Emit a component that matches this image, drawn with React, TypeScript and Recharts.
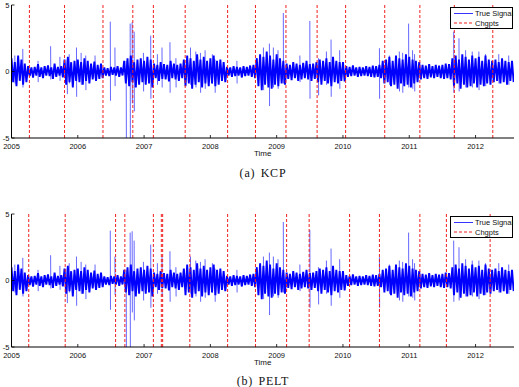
import React from 'react';
import { ComposedChart, Line, XAxis, YAxis, ReferenceLine } from 'recharts';

// signal envelope, one high / low pair per 0.05 year from 2005.00
const binStart = 2005;
const binStep = 0.05;

const upper = [
  // 2005
  1.0, 0.7, 1.2, 0.9, 0.6, 0.4, 0.3, 0.35, 0.55, 0.3, 0.4, 0.45, 0.3, 0.6, 0.35, 0.4, 0.9, 1.1, 0.7, 0.8,
  // 2006
  0.9, 0.7, 1.0, 0.8, 0.6, 0.75, 0.5, 0.6, 0.3, 0.25, 0.35, 0.3, 0.4, 0.3, 0.8, 1.0, 1.2, 0.7, 0.9, 1.0,
  // 2007
  0.8, 1.1, 0.9, 0.6, 0.5, 0.7, 0.55, 0.5, 0.8, 0.6, 0.5, 0.6, 0.9, 1.2, 1.0, 0.8, 1.3, 0.9, 1.1, 0.8,
  // 2008
  1.0, 1.2, 0.8, 0.9, 0.7, 0.35, 0.3, 0.4, 0.35, 0.3, 0.4, 0.35, 0.45, 0.5, 1.0, 1.3, 1.1, 1.5, 1.2, 0.9,
  // 2009
  1.3, 1.0, 0.8, 0.6, 0.5, 0.7, 0.6, 0.5, 0.65, 0.8, 0.55, 0.6, 0.7, 0.9, 0.8, 1.0, 0.7, 1.1, 0.8, 0.7,
  // 2010
  0.7, 0.4, 0.35, 0.45, 0.3, 0.35, 0.3, 0.4, 0.35, 0.45, 0.4, 0.5, 0.8, 0.9, 1.1, 0.8, 1.2, 1.0, 0.9, 1.3,
  // 2011
  1.1, 0.9, 0.8, 0.7, 0.5, 0.45, 0.55, 0.4, 0.5, 0.45, 0.5, 0.6, 0.55, 1.0, 1.2, 0.9, 1.3, 1.1, 0.9, 1.2,
  // 2012
  1.0, 1.1, 0.8, 1.2, 0.9, 0.8, 0.9, 0.7, 1.0, 0.8, 0.7, 0.8,
];

const lower = [
  // 2005
  -0.8, -1.1, -0.7, -1.0, -0.8, -0.35, -0.45, -0.3, -0.4, -0.5, -0.3, -0.35, -0.55, -0.4, -0.3, -0.45, -1.0, -0.8, -1.2, -0.7,
  // 2006
  -0.8, -1.0, -0.7, -0.9, -0.6, -0.7, -0.55, -0.5, -0.3, -0.35, -0.25, -0.3, -0.4, -0.3, -0.9, -1.1, -0.8, -1.2, -1.0, -0.8,
  // 2007
  -1.0, -0.9, -1.2, -0.5, -0.7, -0.55, -0.6, -0.75, -0.5, -0.6, -0.7, -0.5, -1.1, -0.9, -1.3, -1.0, -0.8, -1.2, -0.9, -1.1,
  // 2008
  -0.9, -1.1, -1.0, -0.7, -0.8, -0.3, -0.4, -0.35, -0.3, -0.45, -0.35, -0.3, -0.4, -0.5, -1.1, -1.4, -1.0, -1.2, -1.3, -1.0,
  // 2009
  -1.1, -0.9, -1.0, -0.55, -0.65, -0.5, -0.7, -0.6, -0.5, -0.6, -0.7, -0.55, -0.8, -1.0, -0.7, -0.9, -1.1, -0.8, -0.9, -0.7,
  // 2010
  -0.75, -0.4, -0.35, -0.3, -0.4, -0.35, -0.3, -0.35, -0.4, -0.45, -0.4, -0.5, -0.9, -0.8, -1.1, -1.0, -1.3, -0.9, -1.1, -1.0,
  // 2011
  -1.2, -0.9, -0.8, -0.6, -0.5, -0.55, -0.45, -0.5, -0.4, -0.5, -0.55, -0.5, -0.6, -1.1, -0.9, -1.3, -1.0, -1.2, -1.1, -0.9,
  // 2012
  -1.2, -1.0, -1.1, -0.9, -1.0, -0.8, -0.7, -0.9, -0.8, -1.0, -0.7, -0.8,
];

// isolated large returns: [time, high, low]
const spikes: [number, number, number][] = [
  [2005.05, 1.2, -0.9],
  [2005.17, 1.7, -1.2],
  [2005.4, 0.8, -0.8],
  [2005.59, 1.9, -0.6],
  [2005.73, 1.1, -0.7],
  [2005.84, 0.9, -1.7],
  [2005.87, 1.3, -0.9],
  [2005.98, 1.8, -1.9],
  [2006.05, 1.4, -1.0],
  [2006.12, 1.2, -1.4],
  [2006.26, 1.2, -0.5],
  [2006.49, 3.75, -2.2],
  [2006.56, 1.8, -1.1],
  [2006.73, 0.8, -5],
  [2006.79, 3.6, -5],
  [2006.82, 3.7, -2.4],
  [2006.85, 3.0, -3.0],
  [2006.99, 1.4, -1.5],
  [2007.1, 2.7, -2.05],
  [2007.2, 1.3, -1.0],
  [2007.27, 1.8, -1.2],
  [2007.39, 2.2, -1.6],
  [2007.48, 1.0, -1.2],
  [2007.7, 1.8, -1.0],
  [2007.78, 1.5, -1.2],
  [2007.85, 1.4, -1.6],
  [2007.92, 1.6, -1.3],
  [2008.03, 1.3, -0.9],
  [2008.07, 0.9, -1.6],
  [2008.4, 0.8, -0.9],
  [2008.8, 1.8, -1.4],
  [2008.89, 2.1, -2.6],
  [2008.95, 1.8, -1.2],
  [2009.02, 1.6, -1.3],
  [2009.1, 4.4, -0.9],
  [2009.35, 1.2, -0.8],
  [2009.5, 3.8, -2.05],
  [2009.63, 1.0, -1.8],
  [2009.75, 1.5, -1.0],
  [2009.82, 2.4, -1.9],
  [2009.95, 1.6, -1.3],
  [2010.55, 1.75, -2.05],
  [2010.7, 1.2, -1.0],
  [2010.85, 1.5, -1.5],
  [2010.9, 1.4, -1.6],
  [2010.99, 3.6, -1.2],
  [2011.05, 1.6, -1.3],
  [2011.08, 1.3, -1.5],
  [2011.67, 3.0, -1.6],
  [2011.75, 2.5, -1.5],
  [2011.85, 1.6, -1.2],
  [2011.95, 1.5, -1.2],
  [2012.05, 1.5, -1.4],
  [2012.15, 1.3, -1.1],
  [2012.35, 1.3, -0.9],
  [2012.5, 1.2, -1.0],
];

const kcpChangepoints = [
  2005.27, 2005.8, 2006.38, 2006.83, 2007.14, 2007.62, 2008.26, 2008.68,
  2009.14, 2009.61, 2010.04, 2010.63, 2011.16, 2011.68, 2012.26,
];

const peltChangepoints = [
  2005.26, 2005.81, 2006.57, 2006.71, 2007.14, 2007.26, 2007.28, 2007.69,
  2008.26, 2008.68, 2009.15, 2009.49, 2010.1, 2010.55, 2011.16, 2011.56, 2012.22,
];

const yearTicks = [2005, 2006, 2007, 2008, 2009, 2010, 2011, 2012];
const valueTicks = [-5, 0, 5];
const timeDomain = [2005, 2012.58];

// dense band: the line swings high then low inside every bin
const bandRows = upper.flatMap((u, i) => [
  { t: binStart + i * binStep, v: u },
  { t: binStart + i * binStep + binStep / 2, v: lower[i] },
]);

// spike rows, each pair broken off from the next by a null
const spikeRows = spikes.flatMap(([t, hi, lo]) => [
  { t, v: hi },
  { t: t + 0.003, v: lo },
  { t: t + 0.004, v: null },
]);

const FONT = '"Liberation Sans", Arial, Helvetica, sans-serif';
const BLUE = '#0000ff';
const RED = '#f02020';
const TICK = 3;

const BottomTick = (props: any) => {
  const { x, y, payload } = props;
  return (
    <g>
      <line x1={x} x2={x} y1={y} y2={y - TICK} stroke="#000" strokeWidth={0.8} />
      <text x={x} y={y + 11} textAnchor="middle" fontSize={7.5} fontFamily={FONT} fill="#111">
        {payload.value}
      </text>
    </g>
  );
};

const TopTick = (props: any) => {
  const { x, y } = props;
  return <line x1={x} x2={x} y1={y} y2={y + TICK} stroke="#000" strokeWidth={0.8} />;
};

const LeftTick = (props: any) => {
  const { x, y, payload } = props;
  return (
    <g>
      <line x1={x} x2={x + TICK} y1={y} y2={y} stroke="#000" strokeWidth={0.8} />
      <text x={x - 2} y={y + 2.5} textAnchor="end" fontSize={7.5} fontFamily={FONT} fill="#111">
        {payload.value}
      </text>
    </g>
  );
};

const RightTick = (props: any) => {
  const { x, y } = props;
  return <line x1={x} x2={x - TICK} y1={y} y2={y} stroke="#000" strokeWidth={0.8} />;
};

const LegendBox = ({ top }: { top: number }) => (
  <div
    style={{
      position: 'absolute',
      left: 450,
      top,
      width: 61,
      height: 20,
      border: '1px solid #000',
      background: '#fff',
    }}
  >
    <svg width={80} height={20} style={{ position: 'absolute', left: 0, top: 0, overflow: 'visible' }}>
      <line x1={3} x2={22} y1={5.5} y2={5.5} stroke={BLUE} strokeWidth={0.8} />
      <line x1={3} x2={22} y1={15} y2={15} stroke={RED} strokeWidth={1} strokeDasharray="3 2" />
      <text x={24} y={8.3} fontSize={7.5} fontFamily={FONT} fill="#111">True Signal</text>
      <text x={24} y={17.8} fontSize={7.5} fontFamily={FONT} fill="#111">Chgpts</text>
    </svg>
  </div>
);

function SignalPanel({ changepoints }: { changepoints: number[] }) {
  return (
    <ComposedChart width={519} height={161} margin={{ top: 5, right: 5, bottom: 3, left: 0 }}>
      <XAxis
        dataKey="t"
        type="number"
        domain={timeDomain}
        ticks={yearTicks}
        interval={0}
        allowDataOverflow
        height={20}
        tickSize={0}
        tickMargin={0}
        tickLine={false}
        tick={<BottomTick />}
        stroke="#000"
        label={{ value: 'Time', position: 'insideBottom', offset: 2, fontSize: 8, fontFamily: FONT, fill: '#111' }}
      />
      <XAxis
        xAxisId="top"
        dataKey="t"
        type="number"
        orientation="top"
        domain={timeDomain}
        ticks={yearTicks}
        interval={0}
        allowDataOverflow
        height={0}
        tickSize={0}
        tickLine={false}
        tick={<TopTick />}
        stroke="#000"
      />
      <YAxis
        type="number"
        domain={[-5, 5]}
        ticks={valueTicks}
        interval={0}
        allowDataOverflow
        width={11.5}
        tickSize={0}
        tickMargin={0}
        tickLine={false}
        tick={<LeftTick />}
        stroke="#000"
      />
      <YAxis
        yAxisId="right"
        orientation="right"
        type="number"
        domain={[-5, 5]}
        ticks={valueTicks}
        interval={0}
        allowDataOverflow
        width={0}
        tickSize={0}
        tickLine={false}
        tick={<RightTick />}
        stroke="#000"
      />
      <Line
        data={spikeRows}
        dataKey="v"
        stroke={BLUE}
        strokeOpacity={0.6}
        strokeWidth={1}
        dot={false}
        activeDot={false}
        legendType="none"
        isAnimationActive={false}
      />
      <Line
        data={bandRows}
        dataKey="v"
        name="True Signal"
        stroke={BLUE}
        strokeWidth={1.9}
        dot={false}
        activeDot={false}
        isAnimationActive={false}
      />
      <Line
        data={bandRows}
        xAxisId="top"
        yAxisId="right"
        dataKey="v"
        stroke="none"
        dot={false}
        activeDot={false}
        legendType="none"
        isAnimationActive={false}
      />
      {changepoints.map((c) => (
        <ReferenceLine key={c} x={c} stroke={RED} strokeWidth={1} strokeDasharray="3 2" />
      ))}
    </ComposedChart>
  );
}

const captionStyle: React.CSSProperties = {
  position: 'absolute',
  left: 0,
  width: 526,
  textAlign: 'center',
  fontFamily: '"Liberation Serif", "DejaVu Serif", serif',
  fontSize: 12,
  letterSpacing: 0.8,
  wordSpacing: 1.5,
  color: '#111',
};

export default function App() {
  return (
    <div
      style={{
        position: 'absolute',
        left: 0,
        top: 0,
        width: 519,
        height: 387,
        overflow: 'hidden',
        background: '#fff',
      }}
    >
      <div style={{ position: 'absolute', left: 0, top: 0 }}>
        <SignalPanel changepoints={kcpChangepoints} />
      </div>
      <LegendBox top={7} />
      <div style={{ ...captionStyle, top: 166 }}>(a) KCP</div>
      <div style={{ position: 'absolute', left: 0, top: 209 }}>
        <SignalPanel changepoints={peltChangepoints} />
      </div>
      <LegendBox top={216} />
      <div style={{ ...captionStyle, top: 374 }}>(b) PELT</div>
    </div>
  );
}
